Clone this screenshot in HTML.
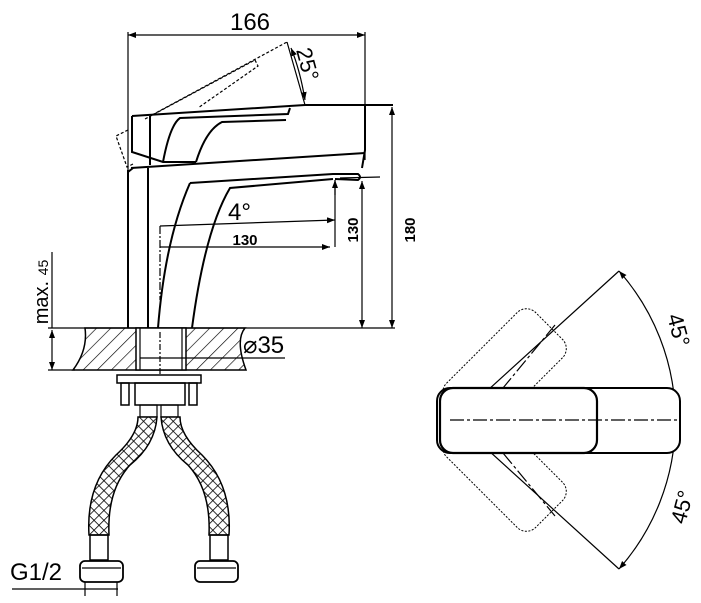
<!DOCTYPE html>
<html><head><style>html,body{margin:0;padding:0;background:#fff}svg{display:block}</style></head>
<body>
<svg width="701" height="603" viewBox="0 0 701 603" xmlns="http://www.w3.org/2000/svg" font-family="Liberation Sans, Arial, sans-serif">
<defs>
<pattern id="h" width="10" height="10" patternUnits="userSpaceOnUse" patternTransform="rotate(45)">
<line x1="0" y1="0" x2="0" y2="10" stroke="#000" stroke-width="1.3"/>
</pattern>
<pattern id="x" width="7" height="7" patternUnits="userSpaceOnUse" patternTransform="rotate(45)">
<rect width="7" height="7" fill="#fff"/>
<line x1="0" y1="0" x2="7" y2="0" stroke="#000" stroke-width="1.6"/>
<line x1="0" y1="0" x2="0" y2="7" stroke="#000" stroke-width="1.6"/>
</pattern>
<marker id="a" markerWidth="8" markerHeight="6" refX="8" refY="3" orient="auto-start-reverse" markerUnits="userSpaceOnUse"><path d="M0,0 L8,3 L0,6z" fill="#000"/></marker>
</defs>
<g stroke="#000" fill="none" stroke-width="1.2">
<line x1="128" y1="35" x2="365" y2="35" marker-start="url(#a)" marker-end="url(#a)"/>
<line x1="128" y1="32" x2="128" y2="328"/>
<line x1="365" y1="32" x2="365" y2="160"/>
<path d="M128,130 L116,136 L127,167 L133,164 M152,115 L287,42 M255,60 L258,66 L198,108 M145,119 L255,60" stroke-dasharray="3,2"/>
<path d="M287,42 L305,105" />
<path d="M291,48 Q300,70 305,100" marker-start="url(#a)" marker-end="url(#a)"/>
<g stroke-width="2">
<path d="M132,116 L305,105 L393,105"/>
<path d="M365,105 L365,150 L362,168"/>
<path d="M131,168 L365,153"/>
<path d="M132,116 L132,152 L163,162 L196,162"/>
<path d="M150,116 L150,165"/>
<path d="M290,108 L288,114 L180,118 Q170,125 163,162"/>
<path d="M286,120 L222,122 Q206,130 196,162"/>
<path d="M128,170 L128,328 M148,168 L148,328"/>
<path d="M133,168 L128,172"/>
<path d="M190,183 L333,174 L358,174 Q362,177 358,180 L335,179"/>
<path d="M190,183 Q165,240 158,328"/>
<path d="M333,179 L230,188 Q205,230 192,328"/>
</g>
<line x1="160" y1="226" x2="335" y2="220" marker-end="url(#a)"/>
<line x1="160" y1="247" x2="330" y2="247" marker-end="url(#a)"/>
<line x1="160" y1="226" x2="160" y2="300" stroke-dasharray="8,2,2,2"/>
<line x1="335" y1="180" x2="335" y2="247"/>
<line x1="335" y1="180" x2="335" y2="195" marker-start="url(#a)"/>
<line x1="340" y1="178" x2="380" y2="177"/>
<line x1="362" y1="181" x2="362" y2="328" marker-start="url(#a)" marker-end="url(#a)"/>
<line x1="392" y1="107" x2="392" y2="328" marker-start="url(#a)" marker-end="url(#a)"/>
<line x1="48" y1="328" x2="395" y2="328"/>
<line x1="52" y1="252" x2="52" y2="328"/>
<line x1="52" y1="330" x2="52" y2="370" marker-start="url(#a)" marker-end="url(#a)"/>
<line x1="48" y1="370" x2="75" y2="370"/>
<path d="M85,328 L245,328 Q235,340 246,370 L73,370 Q88,350 85,328z" fill="url(#h)" stroke-width="1.5"/>
<rect x="136" y="328" width="50" height="42" fill="#fff" stroke-width="1.5"/>
<line x1="140" y1="328" x2="140" y2="370"/><line x1="182" y1="328" x2="182" y2="370"/>
<line x1="160" y1="332" x2="160" y2="375" stroke-dasharray="6,2,2,2"/>
<line x1="140" y1="358" x2="285" y2="358"/>
<rect x="117" y="375" width="84" height="8" stroke-width="1.5"/>
<rect x="121" y="383" width="8" height="22" stroke-width="1.5"/>
<rect x="189" y="383" width="8" height="22" stroke-width="1.5"/>
<rect x="135" y="383" width="50" height="22" stroke-width="1.5"/>
<rect x="140" y="405" width="17" height="12"/><rect x="161" y="405" width="17" height="12"/>
<path d="M138,417 L157,417 Q155,445 130,465 Q107,490 109,535 L89,535 Q86,485 116,455 Q138,435 138,417z" fill="url(#x)" stroke-width="1.5"/>
<path d="M161,417 L180,417 Q180,435 202,455 Q232,485 229,535 L209,535 Q211,490 188,465 Q163,445 161,417z" fill="url(#x)" stroke-width="1.5"/>
<rect x="90" y="535" width="18" height="25" stroke-width="1.5"/>
<rect x="210" y="535" width="18" height="25" stroke-width="1.5"/>
<rect x="80" y="561" width="43" height="21" rx="5" stroke-width="1.8"/>
<rect x="195" y="561" width="43" height="21" rx="5" stroke-width="1.8"/>
<line x1="82" y1="568" x2="121" y2="568"/><line x1="197" y1="568" x2="236" y2="568"/>
<line x1="12" y1="589" x2="118" y2="589"/>
<line x1="85" y1="582" x2="85" y2="596"/><line x1="117" y1="582" x2="117" y2="596"/>
<line x1="455" y1="420" x2="619" y2="271"/>
<line x1="455" y1="420" x2="619" y2="569"/>
<path d="M619,271 A225,225 0 0 1 619,569" marker-start="url(#a)" marker-end="url(#a)"/>
<g stroke-dasharray="2,1.5" stroke-width="1">
<rect x="462" y="388" width="126" height="64" rx="13" transform="rotate(-45 455 420)"/>
<rect x="462" y="388" width="126" height="64" rx="13" transform="rotate(45 455 420)"/>
</g>
<rect x="437" y="388" width="243" height="65" rx="13" fill="#fff" stroke-width="2"/>
<rect x="440" y="388" width="157" height="65" rx="13" stroke-width="2.2"/>
<line x1="450" y1="420" x2="680" y2="420" stroke-dasharray="14,3,3,3"/>
<line x1="555" y1="325" x2="503" y2="388" stroke-dasharray="14,3,3,3"/>
<line x1="503" y1="453" x2="555" y2="516" stroke-dasharray="14,3,3,3"/>
</g>
<g fill="#000" font-size="22">
<text x="250" y="30" text-anchor="middle" font-size="24">166</text>
<text x="0" y="0" transform="translate(296,50) rotate(75)" font-size="22">25°</text>
<text x="228" y="220" font-size="24">4°</text>
<text x="245" y="245" font-size="15" font-weight="bold" text-anchor="middle">130</text>
<text x="0" y="0" transform="translate(358,230) rotate(-90)" font-size="15" font-weight="bold" text-anchor="middle">130</text>
<text x="0" y="0" transform="translate(415,230) rotate(-90)" font-size="15" font-weight="bold" text-anchor="middle">180</text>
<text x="0" y="0" transform="translate(48,292) rotate(-90)" font-size="20" text-anchor="middle">max. <tspan font-size="14">45</tspan></text>
<text x="243" y="353" font-size="24">⌀35</text>
<text x="10" y="580" font-size="24">G1/2</text>
<text x="0" y="0" transform="translate(667,316) rotate(75)" font-size="22">45°</text>
<text x="0" y="0" transform="translate(685,525) rotate(-75)" font-size="22">45°</text>
</g>
</svg>
</body></html>
